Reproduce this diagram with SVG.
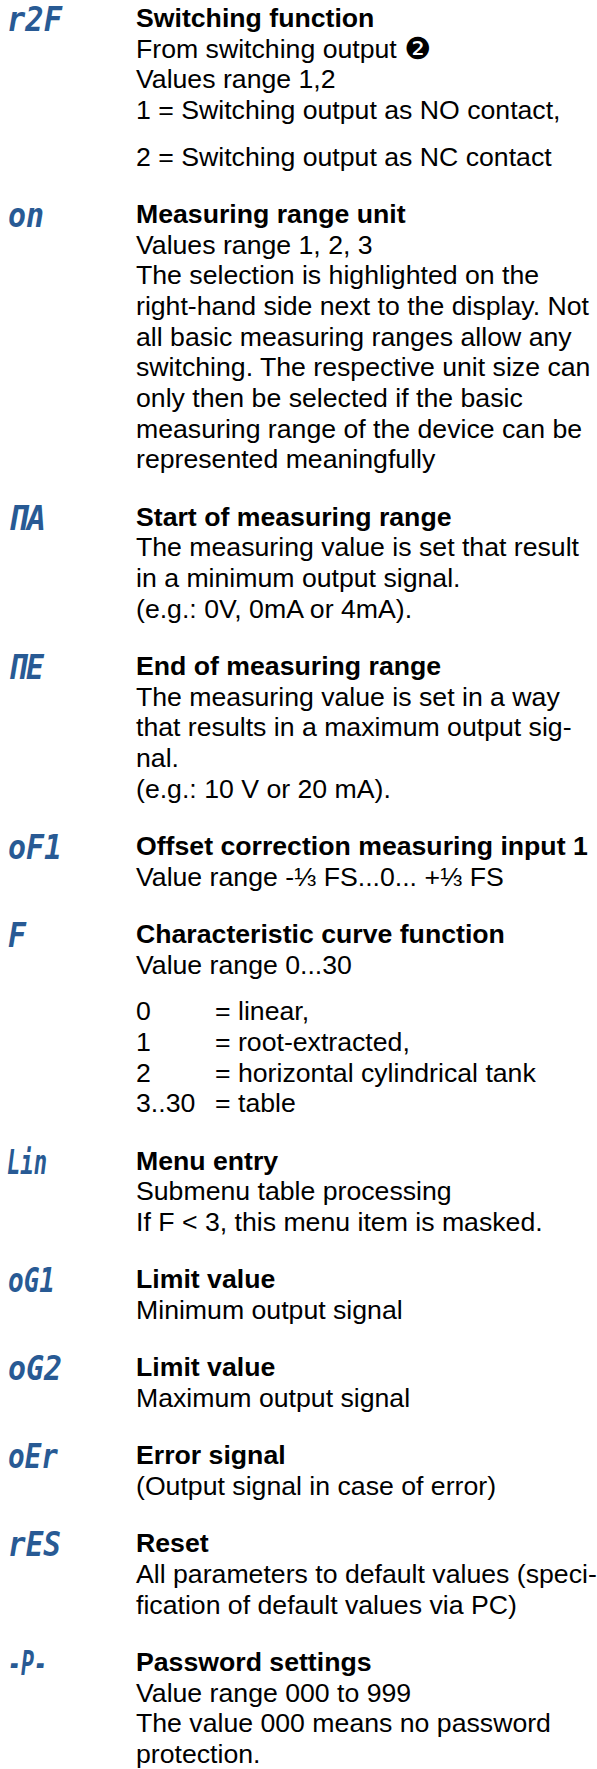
<svg xmlns="http://www.w3.org/2000/svg" width="597" height="1769" viewBox="0 0 597 1769">
<style>
  .code { font-family: "DejaVu Sans Mono", "Liberation Mono", monospace; font-weight: bold; font-style: italic; font-size: 34px; fill: #285a94; }
  .title { font-family: "Liberation Sans", Arial, sans-serif; font-weight: bold; font-size: 26.67px; fill: #000; }
  .body { font-family: "Liberation Sans", Arial, sans-serif; font-size: 26.67px; fill: #000; }
  .dingbat { font-family: "DejaVu Sans", sans-serif; font-size: 30px; fill: #000; }
</style>
<rect width="597" height="1769" fill="#fff"/>

<g id="r2F">
  <text class="code" x="7" y="31" textLength="55" lengthAdjust="spacingAndGlyphs">r2F</text>
  <text class="title" x="136" y="27">Switching function</text>
  <text class="body" x="136" y="57.67">From switching output <tspan class="dingbat" dy="1">❷</tspan></text>
  <text class="body" x="136" y="88.33">Values range 1,2</text>
  <text class="body" x="136" y="119">1 = Switching output as NO contact,</text>
  <text class="body" x="136" y="165.67">2 = Switching output as NC contact</text>
</g>

<g id="on">
  <text class="code" x="8" y="227" textLength="36" lengthAdjust="spacingAndGlyphs">on</text>
  <text class="title" x="136" y="223">Measuring range unit</text>
  <text class="body" x="136" y="253.67">Values range 1, 2, 3</text>
  <text class="body" x="136" y="284.33">The selection is highlighted on the</text>
  <text class="body" x="136" y="315">right-hand side next to the display. Not</text>
  <text class="body" x="136" y="345.67">all basic measuring ranges allow any</text>
  <text class="body" x="136" y="376.33">switching. The respective unit size can</text>
  <text class="body" x="136" y="407">only then be selected if the basic</text>
  <text class="body" x="136" y="437.67">measuring range of the device can be</text>
  <text class="body" x="136" y="468.33">represented meaningfully</text>
</g>

<g id="MA">
  <text class="code" x="8" y="529.67" textLength="38" lengthAdjust="spacingAndGlyphs">ΠA</text>
  <text class="title" x="136" y="525.67">Start of measuring range</text>
  <text class="body" x="136" y="556.33">The measuring value is set that result</text>
  <text class="body" x="136" y="587">in a minimum output signal.</text>
  <text class="body" x="136" y="617.67">(e.g.: 0V, 0mA or 4mA).</text>
</g>

<g id="ME">
  <text class="code" x="8" y="679" textLength="36" lengthAdjust="spacingAndGlyphs">ΠE</text>
  <text class="title" x="136" y="675">End of measuring range</text>
  <text class="body" x="136" y="705.67">The measuring value is set in a way</text>
  <text class="body" x="136" y="736.33">that results in a maximum output sig-</text>
  <text class="body" x="136" y="767">nal.</text>
  <text class="body" x="136" y="797.67">(e.g.: 10 V or 20 mA).</text>
</g>

<g id="oF1">
  <text class="code" x="8" y="859" textLength="54" lengthAdjust="spacingAndGlyphs">oF1</text>
  <text class="title" x="136" y="855">Offset correction measuring input 1</text>
  <text class="body" x="136" y="885.67">Value range -⅓ FS...0... +⅓ FS</text>
</g>

<g id="F">
  <text class="code" x="8" y="947" textLength="18" lengthAdjust="spacingAndGlyphs">F</text>
  <text class="title" x="136" y="943">Characteristic curve function</text>
  <text class="body" x="136" y="973.67">Value range 0...30</text>
  <text class="body" x="136" y="1020.33">0</text>
  <text class="body" x="215" y="1020.33">= linear,</text>
  <text class="body" x="136" y="1051">1</text>
  <text class="body" x="215" y="1051">= root-extracted,</text>
  <text class="body" x="136" y="1081.67">2</text>
  <text class="body" x="215" y="1081.67">= horizontal cylindrical tank</text>
  <text class="body" x="136" y="1112.33">3..30</text>
  <text class="body" x="215" y="1112.33">= table</text>
</g>

<g id="Lin">
  <text class="code" x="7" y="1173.67" textLength="40" lengthAdjust="spacingAndGlyphs">Lin</text>
  <text class="title" x="136" y="1169.67">Menu entry</text>
  <text class="body" x="136" y="1200.33">Submenu table processing</text>
  <text class="body" x="136" y="1231">If F &lt; 3, this menu item is masked.</text>
</g>

<g id="oG1">
  <text class="code" x="8" y="1292.33" textLength="47" lengthAdjust="spacingAndGlyphs">oG1</text>
  <text class="title" x="136" y="1288.33">Limit value</text>
  <text class="body" x="136" y="1319">Minimum output signal</text>
</g>

<g id="oG2">
  <text class="code" x="8" y="1380.33" textLength="54" lengthAdjust="spacingAndGlyphs">oG2</text>
  <text class="title" x="136" y="1376.33">Limit value</text>
  <text class="body" x="136" y="1407">Maximum output signal</text>
</g>

<g id="oEr">
  <text class="code" x="8" y="1468.33" textLength="50" lengthAdjust="spacingAndGlyphs">oEr</text>
  <text class="title" x="136" y="1464.33">Error signal</text>
  <text class="body" x="136" y="1495">(Output signal in case of error)</text>
</g>

<g id="rES">
  <text class="code" x="8" y="1556.33" textLength="53" lengthAdjust="spacingAndGlyphs">rES</text>
  <text class="title" x="136" y="1552.33">Reset</text>
  <text class="body" x="136" y="1583">All parameters to default values (speci-</text>
  <text class="body" x="136" y="1613.67">fication of default values via PC)</text>
</g>

<g id="P">
  <text class="code" x="8" y="1675" textLength="39" lengthAdjust="spacingAndGlyphs">-P-</text>
  <text class="title" x="136" y="1671">Password settings</text>
  <text class="body" x="136" y="1701.67">Value range 000 to 999</text>
  <text class="body" x="136" y="1732.33">The value 000 means no password</text>
  <text class="body" x="136" y="1763">protection.</text>
</g>
</svg>
